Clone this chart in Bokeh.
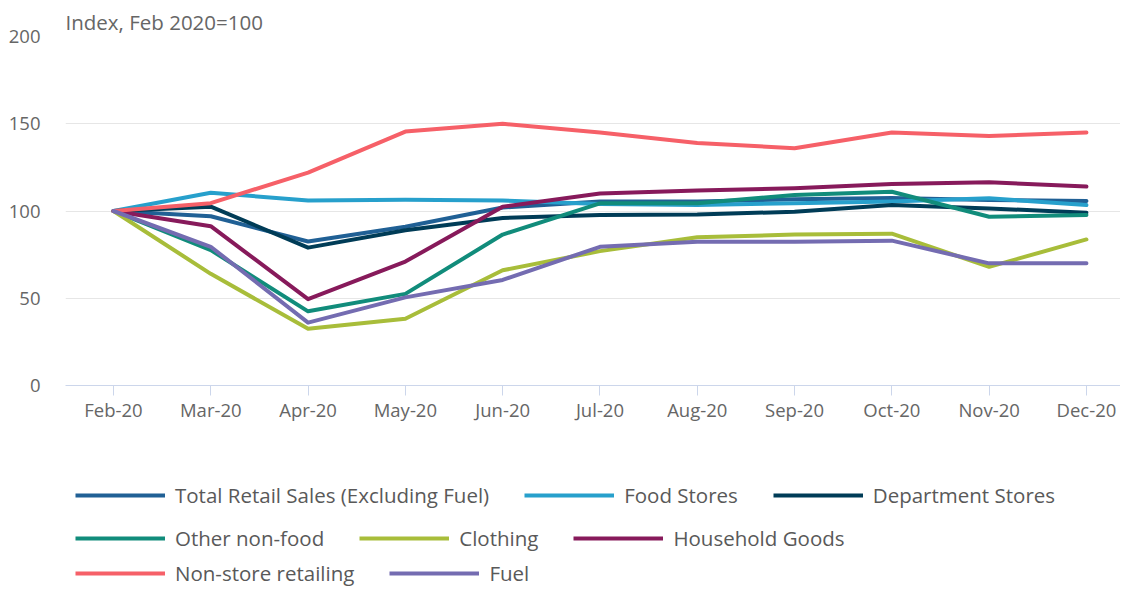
from bokeh.plotting import figure
from bokeh.models import Range1d, FixedTicker, Legend, LegendItem
from bokeh.layouts import column
from bokeh.embed import file_html
from bokeh.resources import INLINE

months = ["Feb-20", "Mar-20", "Apr-20", "May-20", "Jun-20", "Jul-20",
          "Aug-20", "Sep-20", "Oct-20", "Nov-20", "Dec-20"]
total_retail = [100, 97, 82.5, 91, 102, 105.5, 105.5, 106.7, 107.5, 106.3, 105.7]
food_stores = [100, 110.5, 106, 106.5, 106, 104, 103.5, 104.4, 105.5, 107.3, 103.4]
department_stores = [100, 102.5, 79, 89, 96, 97.7, 98, 99.6, 103.4, 101.5, 99]
other_non_food = [100, 77.6, 42.5, 52.5, 86.5, 104.4, 104.5, 109.2, 111, 96.7, 97.7]
clothing = [100, 64, 32.5, 38.3, 66, 77, 85, 86.5, 87, 68, 83.7]
household_goods = [100, 91.3, 49.5, 71, 102.5, 110, 111.7, 113, 115.5, 116.5, 114]
non_store = [100, 104.5, 122, 145.5, 150, 145, 139, 136, 145, 143, 145]
fuel = [100, 79.5, 36, 50.5, 60.5, 79.5, 82.4, 82.4, 83, 70, 70]

series_names = ["Total Retail Sales (Excluding Fuel)", "Food Stores", "Department Stores",
                "Other non-food", "Clothing", "Household Goods", "Non-store retailing", "Fuel"]
series_values = [total_retail, food_stores, department_stores, other_non_food,
                 clothing, household_goods, non_store, fuel]
colors = ["#206095", "#27a0cc", "#003c57", "#118c7b", "#a8bd3a", "#871a5b", "#f66068", "#746cb1"]
y_ticks = [0, 50, 100, 150, 200]

FONT = "Open Sans"
x = list(range(len(months)))

p = figure(width=1120, height=450, output_backend="svg", toolbar_location=None,
           x_range=Range1d(-0.493, 10.35), y_range=Range1d(0, 200),
           min_border_left=65, min_border_right=0, min_border_top=36,
           min_border_bottom=65,
           title="Index, Feb 2020=100")
p.outline_line_color = None
p.background_fill_color = "white"
p.border_fill_color = "white"

p.title.text_font = FONT
p.title.text_font_size = "20.5px"
p.title.text_font_style = "normal"
p.title.text_color = "#666666"
p.title.align = "left"
p.title.standoff = 2
p.title.offset = 0

p.xgrid.grid_line_color = None
p.ygrid.grid_line_color = "#e6e6e6"
p.ygrid.grid_line_width = 1

p.yaxis.ticker = FixedTicker(ticks=y_ticks)
p.yaxis.axis_line_color = None
p.yaxis.major_tick_line_color = None
p.yaxis.minor_tick_line_color = None
p.yaxis.major_label_text_font = FONT
p.yaxis.major_label_text_font_size = "18.5px"
p.yaxis.major_label_text_color = "#666666"
p.yaxis.major_label_standoff = 19

p.xaxis.ticker = FixedTicker(ticks=x)
p.xaxis.major_label_overrides = {i: m for i, m in enumerate(months)}
p.xaxis.axis_line_color = "#ccd6eb"
p.xaxis.axis_line_width = 1
p.xaxis.major_tick_line_color = "#ccd6eb"
p.xaxis.major_tick_out = 10
p.xaxis.major_tick_in = 0
p.xaxis.minor_tick_line_color = None
p.xaxis.major_label_text_font = FONT
p.xaxis.major_label_text_font_size = "18.5px"
p.xaxis.major_label_text_color = "#666666"
p.xaxis.major_label_standoff = 1

renderers = []
for name, vals, c in zip(series_names, series_values, colors):
    r = p.line(x, vals, line_color=c, line_width=4, line_join="round", line_cap="round")
    renderers.append(r)

# legend panel: same series drawn outside its (hidden) view range, used only for legend swatches
lf = figure(width=1120, height=137, output_backend="svg", toolbar_location=None,
            x_axis_location=None, y_axis_location=None,
            x_range=Range1d(0, 1), y_range=Range1d(1000, 1001),
            min_border_left=65, min_border_right=0, min_border_top=0, min_border_bottom=0)
lf.outline_line_color = None
lf.xgrid.grid_line_color = None
lf.ygrid.grid_line_color = None
legend_renderers = [lf.line(x, vals, line_color=c, line_width=4)
                    for vals, c in zip(series_values, colors)]

rows = [[0, 1, 2], [3, 4, 5], [6, 7]]
row_offsets = [78, 35, 0]
for row, yoff in zip(rows, row_offsets):
    items = [LegendItem(label=series_names[i], renderers=[legend_renderers[i]]) for i in row]
    lg = Legend(items=items, orientation="horizontal", location=(10, yoff),
                glyph_width=90, glyph_height=20, label_height=20,
                label_standoff=10, spacing=35, padding=0, margin=0,
                border_line_color=None, background_fill_alpha=0,
                label_text_font=FONT, label_text_font_size="20.5px",
                label_text_color="#595959")
    lf.add_layout(lg, "center")

layout = column(p, lf, spacing=0)
open("out.html", "w").write(file_html(layout, INLINE))
